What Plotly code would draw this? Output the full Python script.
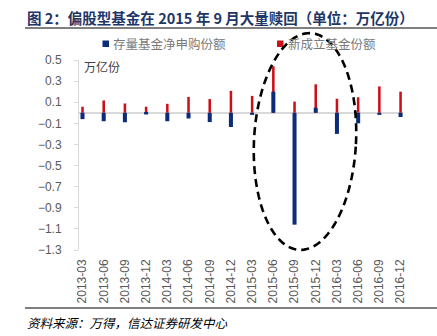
import numpy as np
import plotly.graph_objects as go

quarters = ["2013-03", "2013-06", "2013-09", "2013-12", "2014-03", "2014-06",
            "2014-09", "2014-12", "2015-03", "2015-06", "2015-09", "2015-12",
            "2016-03", "2016-06", "2016-09", "2016-12"]
existing_net = [-0.06, -0.08, -0.09, -0.016, -0.08, -0.054, -0.088, -0.135,
                -0.02, 0.20, -1.06, 0.048, -0.20, -0.10, -0.02, -0.04]
new_funds = [0.057, 0.117, 0.088, 0.057, 0.085, 0.15, 0.13, 0.208,
             0.16, 0.44, 0.106, 0.27, 0.133, 0.147, 0.25, 0.20]

series_names = ["存量基金净申购份额", "新成立基金份额"]
BLUE = "#0c2c7a"
RED = "#cc1018"
CJK = "Noto Sans CJK SC"

fig = go.Figure()
fig.add_trace(go.Bar(x=quarters, y=new_funds, name=series_names[1],
                     marker=dict(color=RED, line=dict(width=0)), width=0.12))
fig.add_trace(go.Bar(x=quarters, y=existing_net, name=series_names[0],
                     marker=dict(color=BLUE, line=dict(width=0)), width=0.19))

# plot area pixel geometry
L, R, T, B = 79, 403, 60, 250
W, H = 437, 336

def px(x):
    return (x - L) / (R - L)

def py(y):
    return (B - y) / (B - T)

fig.update_layout(
    width=W, height=H,
    margin=dict(l=L, r=W - R, t=T, b=H - B),
    paper_bgcolor="white", plot_bgcolor="white",
    barmode="overlay", showlegend=False,
    font=dict(family=CJK, color="#595959"),
    xaxis=dict(range=[-0.165, 15.115], type="category", tickangle=-90,
               showgrid=False, showline=False, ticks="",
               tickfont=dict(family="Liberation Sans", size=12, color="#595959"),
               ticklabelstandoff=6),
    yaxis=dict(range=[-1.3, 0.5], tick0=-1.3, dtick=0.2, tickformat=".1f",
               showgrid=False, showline=True, linecolor="#d9d9d9", linewidth=1,
               ticks="outside", ticklen=4, tickcolor="#d9d9d9",
               zeroline=True, zerolinecolor="#d9d9d9", zerolinewidth=1.5,
               tickfont=dict(family="Liberation Sans", size=12, color="#595959"),
               ticklabelstandoff=10),
)

annotations = [
    dict(text="图 2：偏股型基金在 2015 年 9 月大量赎回（单位：万亿份）",
         x=px(25), y=py(18), xanchor="left", yanchor="middle",
         font=dict(family=CJK, size=14.5, color="#1f3668", weight="bold")),
    dict(text=series_names[0], x=px(111), y=py(44), xanchor="left", yanchor="middle",
         font=dict(family=CJK, size=12.5, color="#7a7a7a")),
    dict(text=series_names[1], x=px(286), y=py(44), xanchor="left", yanchor="middle",
         font=dict(family=CJK, size=12.5, color="#7a7a7a")),
    dict(text="万亿份", x=px(82), y=py(66), xanchor="left", yanchor="middle",
         font=dict(family=CJK, size=12, color="#404040")),
    dict(text="资料来源：万得，信达证券研发中心", x=px(25), y=py(322),
         xanchor="left", yanchor="middle",
         font=dict(family=CJK, size=12.5, color="#000000", style="italic")),
]
for a in annotations:
    a.update(xref="paper", yref="paper", showarrow=False)
fig.update_layout(annotations=annotations)

shapes = [
    dict(type="line", x0=px(25), x1=px(437), y0=py(28), y1=py(28),
         line=dict(color="#000000", width=1)),
    dict(type="line", x0=px(25), x1=px(437), y0=py(308), y1=py(308),
         line=dict(color="#000000", width=1)),
    dict(type="rect", x0=px(102.5), x1=px(109), y0=py(40.5), y1=py(47),
         fillcolor=BLUE, line=dict(width=0)),
    dict(type="rect", x0=px(277), x1=px(283.5), y0=py(40.5), y1=py(47),
         fillcolor=RED, line=dict(width=0)),
]

# dashed highlight ellipse (slightly tilted)
t = np.linspace(0, 2 * np.pi, 120)
cx, cy, a_, b_, ang = 305.0, 141.5, 51.0, 108.5, np.deg2rad(3.0)
ex = cx + a_ * np.cos(t) * np.cos(ang) + b_ * np.sin(t) * np.sin(ang)
ey = cy - b_ * np.sin(t) * np.cos(ang) + a_ * np.cos(t) * np.sin(ang)
path = "M " + " L ".join(f"{px(x):.5f},{py(y):.5f}" for x, y in zip(ex, ey)) + " Z"
shapes.append(dict(type="path", path=path, xref="paper", yref="paper",
                   line=dict(color="#000000", width=2.6, dash="8px,5px")))

for s in shapes:
    s.setdefault("xref", "paper")
    s.setdefault("yref", "paper")
fig.update_layout(shapes=shapes)

fig.write_html("out.html")
